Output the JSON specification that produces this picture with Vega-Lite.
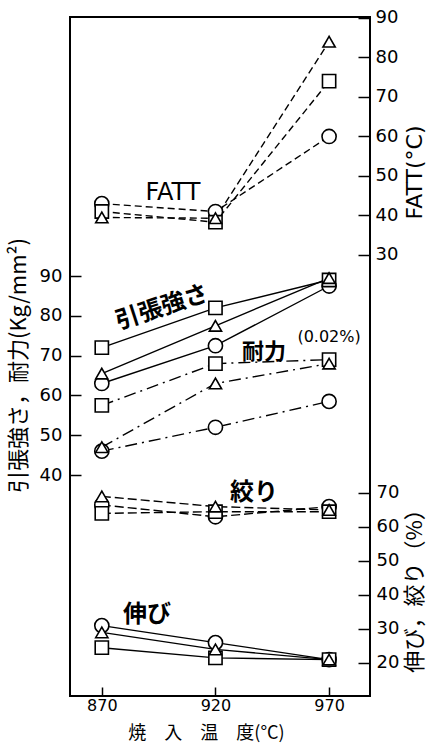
{
  "$schema": "https://vega.github.io/schema/vega-lite/v6.json",
  "width": 300,
  "height": 679,
  "autosize": "none",
  "padding": {"left": 70, "top": 17, "right": 60, "bottom": 47},
  "background": "white",
  "config": {
    "view": {"stroke": "black", "strokeWidth": 2},
    "font": "DejaVu Sans",
    "axis": {
      "domain": false,
      "grid": false,
      "tickColor": "black",
      "tickWidth": 1.5,
      "labelColor": "black",
      "labelFontSize": 18,
      "labelFont": "DejaVu Sans",
      "titleColor": "black",
      "titleFont": "Noto Sans CJK JP",
      "titleFontWeight": "normal"
    }
  },
  "datasets": {
    "pts": [
      {"prop": "FATT", "steel": "A", "temp": 870, "value": 43},
      {"prop": "FATT", "steel": "A", "temp": 920, "value": 41},
      {"prop": "FATT", "steel": "A", "temp": 970, "value": 60},
      {"prop": "FATT", "steel": "B", "temp": 870, "value": 41},
      {"prop": "FATT", "steel": "B", "temp": 920, "value": 38.3},
      {"prop": "FATT", "steel": "B", "temp": 970, "value": 74},
      {"prop": "FATT", "steel": "C", "temp": 870, "value": 39.5},
      {"prop": "FATT", "steel": "C", "temp": 920, "value": 39.3},
      {"prop": "FATT", "steel": "C", "temp": 970, "value": 84},
      {"prop": "TS", "steel": "A", "temp": 870, "value": 63},
      {"prop": "TS", "steel": "A", "temp": 920, "value": 72.5},
      {"prop": "TS", "steel": "A", "temp": 970, "value": 87.5},
      {"prop": "TS", "steel": "B", "temp": 870, "value": 72},
      {"prop": "TS", "steel": "B", "temp": 920, "value": 82},
      {"prop": "TS", "steel": "B", "temp": 970, "value": 89},
      {"prop": "TS", "steel": "C", "temp": 870, "value": 65.5},
      {"prop": "TS", "steel": "C", "temp": 920, "value": 77.5},
      {"prop": "TS", "steel": "C", "temp": 970, "value": 89.5},
      {"prop": "YS", "steel": "A", "temp": 870, "value": 46},
      {"prop": "YS", "steel": "A", "temp": 920, "value": 52},
      {"prop": "YS", "steel": "A", "temp": 970, "value": 58.5},
      {"prop": "YS", "steel": "B", "temp": 870, "value": 57.5},
      {"prop": "YS", "steel": "B", "temp": 920, "value": 68},
      {"prop": "YS", "steel": "B", "temp": 970, "value": 69},
      {"prop": "YS", "steel": "C", "temp": 870, "value": 47},
      {"prop": "YS", "steel": "C", "temp": 920, "value": 63},
      {"prop": "YS", "steel": "C", "temp": 970, "value": 68},
      {"prop": "RA", "steel": "A", "temp": 870, "value": 66.5},
      {"prop": "RA", "steel": "A", "temp": 920, "value": 63},
      {"prop": "RA", "steel": "A", "temp": 970, "value": 66},
      {"prop": "RA", "steel": "B", "temp": 870, "value": 64},
      {"prop": "RA", "steel": "B", "temp": 920, "value": 64.5},
      {"prop": "RA", "steel": "B", "temp": 970, "value": 64.5},
      {"prop": "RA", "steel": "C", "temp": 870, "value": 69},
      {"prop": "RA", "steel": "C", "temp": 920, "value": 66},
      {"prop": "RA", "steel": "C", "temp": 970, "value": 65},
      {"prop": "EL", "steel": "A", "temp": 870, "value": 31},
      {"prop": "EL", "steel": "A", "temp": 920, "value": 26},
      {"prop": "EL", "steel": "A", "temp": 970, "value": 21},
      {"prop": "EL", "steel": "B", "temp": 870, "value": 24.5},
      {"prop": "EL", "steel": "B", "temp": 920, "value": 21.5},
      {"prop": "EL", "steel": "B", "temp": 970, "value": 21},
      {"prop": "EL", "steel": "C", "temp": 870, "value": 29},
      {"prop": "EL", "steel": "C", "temp": 920, "value": 24},
      {"prop": "EL", "steel": "C", "temp": 970, "value": 21}
    ],
    "labels": [
      {"key": "FATT", "text": "FATT", "temp": 901.3, "value": 45.7},
      {"key": "TS", "text": "引張強さ", "temp": 896.5, "value": 82},
      {"key": "YS", "text": "耐力", "temp": 941.4, "value": 70.9},
      {"key": "YSnote", "text": "(0.02%)", "temp": 970, "value": 74.7},
      {"key": "PCT", "text": "絞り", "temp": 937, "value": 70},
      {"key": "PCT", "text": "伸び", "temp": 889.9, "value": 34.1}
    ]
  },
  "encoding": {
    "x": {
      "field": "temp",
      "type": "quantitative",
      "scale": {"domain": [856, 988], "nice": false, "zero": false},
      "axis": {
        "values": [870, 920, 970],
        "format": "d",
        "offset": -9,
        "tickSize": 9,
        "labelPadding": 1,
        "labelFontSize": 16,
        "title": "焼　入　温　度(°C)",
        "titleFontSize": 18,
        "titleX": 136,
        "titleY": 37,
        "titleBaseline": "top",
        "titleAlign": "center"
      }
    }
  },
  "layer": [
    {
      "encoding": {
        "y": {
          "field": "value",
          "type": "quantitative",
          "scale": {"domain": [-81.65, 90.25], "nice": false, "zero": false},
          "axis": {
            "orient": "right",
            "values": [30, 40, 50, 60, 70, 80, 90],
            "offset": -12,
            "tickSize": 12,
            "labelPadding": 5,
            "title": "FATT(°C)",
            "titleFont": "DejaVu Sans",
            "titleFontSize": 22,
            "titleAngle": 270,
            "titleX": 56,
            "titleY": 155,
            "titleAlign": "center",
            "titleBaseline": "middle"
          }
        }
      },
      "layer": [
        {
          "data": {"name": "pts"},
          "transform": [{"filter": "datum.prop === 'FATT'"}],
          "mark": {"type": "line", "color": "black", "strokeWidth": 1.4, "strokeDash": [7, 4]},
          "encoding": {"detail": {"field": "steel"}}
        },
        {
          "data": {"name": "pts"},
          "transform": [{"filter": "datum.prop === 'FATT'"}],
          "mark": {"type": "point", "filled": true, "fill": "white", "stroke": "black", "strokeWidth": 1.6, "opacity": 1},
          "encoding": {
            "shape": {"field": "steel", "scale": {"domain": ["A", "B", "C"], "range": ["circle", "square", "triangle-up"]}, "legend": null},
            "size": {"field": "steel", "scale": {"domain": ["A", "B", "C"], "range": [200, 150, 190]}, "legend": null}
          }
        },
        {
          "data": {"name": "labels"},
          "transform": [{"filter": "datum.key === 'FATT'"}],
          "mark": {"type": "text", "font": "DejaVu Sans", "fontSize": 24, "color": "black"},
          "encoding": {"text": {"field": "text"}}
        }
      ]
    },
    {
      "encoding": {
        "y": {
          "field": "value",
          "type": "quantitative",
          "scale": {"domain": [-15.53, 155.1], "nice": false, "zero": false},
          "axis": {
            "orient": "left",
            "values": [40, 50, 60, 70, 80, 90],
            "offset": -11,
            "tickSize": 11,
            "labelPadding": 8,
            "title": "引張強さ，耐力(Kg/mm²)",
            "titleFontSize": 22,
            "titleAngle": 270,
            "titleX": -63,
            "titleY": 348,
            "titleAlign": "center",
            "titleBaseline": "middle"
          }
        }
      },
      "layer": [
        {
          "data": {"name": "pts"},
          "transform": [{"filter": "datum.prop === 'TS'"}],
          "mark": {"type": "line", "color": "black", "strokeWidth": 1.4},
          "encoding": {"detail": {"field": "steel"}}
        },
        {
          "data": {"name": "pts"},
          "transform": [{"filter": "datum.prop === 'YS'"}],
          "mark": {"type": "line", "color": "black", "strokeWidth": 1.4, "strokeDash": [12, 5, 2, 5]},
          "encoding": {"detail": {"field": "steel"}}
        },
        {
          "data": {"name": "pts"},
          "transform": [{"filter": "datum.prop === 'TS' || datum.prop === 'YS'"}],
          "mark": {"type": "point", "filled": true, "fill": "white", "stroke": "black", "strokeWidth": 1.6, "opacity": 1},
          "encoding": {
            "shape": {"field": "steel", "scale": {"domain": ["A", "B", "C"], "range": ["circle", "square", "triangle-up"]}, "legend": null},
            "size": {"field": "steel", "scale": {"domain": ["A", "B", "C"], "range": [200, 150, 190]}, "legend": null}
          }
        },
        {
          "data": {"name": "labels"},
          "transform": [{"filter": "datum.key === 'TS'"}],
          "mark": {"type": "text", "font": "Noto Sans CJK JP", "fontSize": 24, "fontWeight": "bold", "angle": -18, "color": "black"},
          "encoding": {"text": {"field": "text"}}
        },
        {
          "data": {"name": "labels"},
          "transform": [{"filter": "datum.key === 'YS'"}],
          "mark": {"type": "text", "font": "Noto Sans CJK JP", "fontSize": 22, "fontWeight": "bold", "color": "black"},
          "encoding": {"text": {"field": "text"}}
        },
        {
          "data": {"name": "labels"},
          "transform": [{"filter": "datum.key === 'YSnote'"}],
          "mark": {"type": "text", "font": "DejaVu Sans", "fontSize": 16, "color": "black"},
          "encoding": {"text": {"field": "text"}}
        }
      ]
    },
    {
      "encoding": {
        "y": {
          "field": "value",
          "type": "quantitative",
          "scale": {"domain": [10.29, 210], "nice": false, "zero": false},
          "axis": {
            "orient": "right",
            "values": [20, 30, 40, 50, 60, 70],
            "offset": -12,
            "tickSize": 12,
            "labelPadding": 6,
            "title": "伸び，絞り（%）",
            "titleFontSize": 22,
            "titleAngle": 270,
            "titleX": 56,
            "titleY": 568,
            "titleAlign": "center",
            "titleBaseline": "middle"
          }
        }
      },
      "layer": [
        {
          "data": {"name": "pts"},
          "transform": [{"filter": "datum.prop === 'RA'"}],
          "mark": {"type": "line", "color": "black", "strokeWidth": 1.4, "strokeDash": [9, 4]},
          "encoding": {"detail": {"field": "steel"}}
        },
        {
          "data": {"name": "pts"},
          "transform": [{"filter": "datum.prop === 'EL'"}],
          "mark": {"type": "line", "color": "black", "strokeWidth": 1.4},
          "encoding": {"detail": {"field": "steel"}}
        },
        {
          "data": {"name": "pts"},
          "transform": [{"filter": "datum.prop === 'RA' || datum.prop === 'EL'"}],
          "mark": {"type": "point", "filled": true, "fill": "white", "stroke": "black", "strokeWidth": 1.6, "opacity": 1},
          "encoding": {
            "shape": {"field": "steel", "scale": {"domain": ["A", "B", "C"], "range": ["circle", "square", "triangle-up"]}, "legend": null},
            "size": {"field": "steel", "scale": {"domain": ["A", "B", "C"], "range": [200, 150, 190]}, "legend": null}
          }
        },
        {
          "data": {"name": "labels"},
          "transform": [{"filter": "datum.key === 'PCT'"}],
          "mark": {"type": "text", "font": "Noto Sans CJK JP", "fontSize": 24, "fontWeight": "bold", "color": "black"},
          "encoding": {"text": {"field": "text"}}
        }
      ]
    }
  ],
  "resolve": {"scale": {"y": "independent"}, "axis": {"y": "independent"}}
}
